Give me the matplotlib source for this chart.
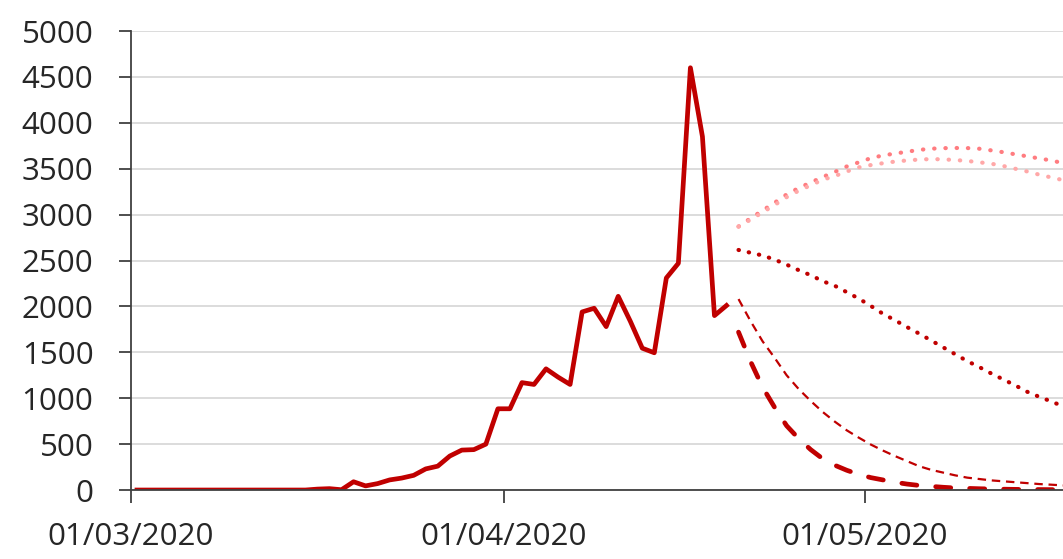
import numpy as np
import pandas as pd
import matplotlib
matplotlib.use("Agg")
import matplotlib.pyplot as plt
import matplotlib.dates as mdates

# observed daily values from 01/03/2020
obs_start = "2020-03-01"
observed = [0, 0, 0, 0, 0, 0, 0, 0, 0, 0,
            0, 0, 0, 0, 0, 10, 15, 3, 90, 45,
            70, 110, 130, 160, 230, 260, 370, 435, 440, 500,
            885, 885, 1170, 1150, 1320, 1230, 1150, 1940, 1980, 1780,
            2110, 1840, 1545, 1495, 2310, 2470, 4600, 3850, 1900, 2010]

# projections from 20/04/2020
proj_start = "2020-04-20"
proj_high = [2870, 2960, 3045, 3130, 3220, 3290, 3350, 3410, 3465, 3525,
             3570, 3615, 3645, 3665, 3685, 3705, 3718, 3724, 3726, 3725,
             3718, 3700, 3680, 3657, 3635, 3612, 3590, 3560, 3530]
proj_high2 = [2870, 2945, 3025, 3105, 3190, 3260, 3320, 3380, 3420, 3470,
              3515, 3540, 3560, 3578, 3590, 3600, 3605, 3602, 3595, 3585,
              3570, 3555, 3530, 3500, 3470, 3435, 3405, 3375, 3340]
proj_mid = [2615, 2585, 2555, 2510, 2455, 2395, 2340, 2275, 2225, 2155,
            2085, 2005, 1920, 1850, 1775, 1705, 1630, 1555, 1480, 1405,
            1340, 1270, 1205, 1140, 1070, 1015, 965, 910, 860]
proj_low = [2080, 1840, 1620, 1440, 1250, 1100, 970, 850, 745, 650,
            570, 495, 430, 370, 315, 260, 220, 190, 160, 135,
            120, 105, 95, 85, 75, 65, 58, 50, 45]
proj_lowest = [1720, 1400, 1120, 900, 700, 560, 440, 340, 270, 215,
               170, 135, 110, 85, 65, 50, 40, 30, 22, 18,
               14, 11, 9, 7, 6, 5, 4, 3, 3]

half = pd.Timedelta(hours=12)  # points sit in the middle of each day
obs_dates = pd.date_range(obs_start, periods=len(observed), freq="D") + half
proj_dates = pd.date_range(proj_start, periods=len(proj_high), freq="D") + half

plt.rcParams['font.family'] = ['Open Sans', 'DejaVu Sans']

fig = plt.figure(figsize=(10.63, 5.59), dpi=100)
ax = fig.add_axes([0.1232, 0.1234, 0.8768, 0.8211])

red = "#C00000"
ax.plot(proj_dates, proj_high, color="#FF7C80", lw=3.0,
        linestyle=(0, (0.1, 2.6)), dash_capstyle="round")
ax.plot(proj_dates, proj_high2, color="#FFA8A8", lw=3.0,
        linestyle=(0, (0.1, 2.6)), dash_capstyle="round")
ax.plot(proj_dates, proj_mid, color=red, lw=3.0,
        linestyle=(0, (0.1, 2.4)), dash_capstyle="round")
ax.plot(proj_dates, proj_low, color=red, lw=1.6,
        linestyle=(0, (3.8, 2.6)))
ax.plot(proj_dates, proj_lowest, color=red, lw=3.4,
        linestyle=(0, (3.2, 4.0)), dash_capstyle="round")
ax.plot(obs_dates, observed, color=red, lw=3.4, solid_joinstyle="round")

ax.set_ylim(0, 5000)
ax.set_yticks(np.arange(0, 5001, 500))
left = pd.Timestamp("2020-03-01")
ax.set_xlim(left, left + pd.Timedelta(days=77.47))
ax.xaxis.set_major_locator(mdates.MonthLocator())
ax.xaxis.set_major_formatter(mdates.DateFormatter("%d/%m/%Y"))

ax.grid(axis="y", color="#D9D9D9", lw=1.3)
ax.set_axisbelow(True)
for s in ["top", "right"]:
    ax.spines[s].set_visible(False)
for s in ["left", "bottom"]:
    ax.spines[s].set_color("#404040")
    ax.spines[s].set_linewidth(1.3)
ax.tick_params(axis="both", colors="#404040", width=1.3, length=9,
               labelsize=22.5, labelcolor="#262626")
ax.tick_params(axis="y", pad=18)
ax.tick_params(axis="x", pad=14)

fig.savefig("out.png", dpi=100)
